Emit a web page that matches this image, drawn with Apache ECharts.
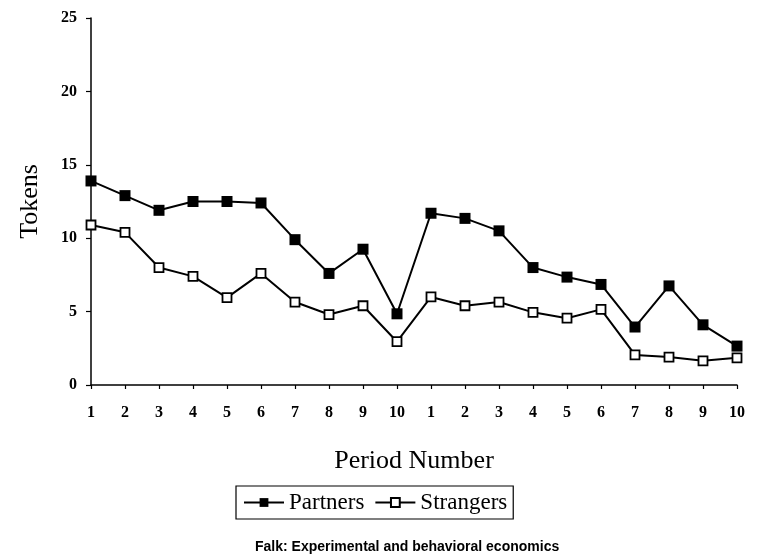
<!DOCTYPE html>
<html>
<head>
<meta charset="utf-8">
<script src="https://cdn.jsdelivr.net/npm/echarts@6/dist/echarts.min.js"></script>
<style>html,body{margin:0;padding:0;background:#fff;}#c{width:759px;height:556px;}</style>
</head>
<body>
<div id="c"></div>
<script>
var periods = ['1','2','3','4','5','6','7','8','9','10','1','2','3','4','5','6','7','8','9','10'];
var partners = [13.9, 12.9, 11.9, 12.5, 12.5, 12.4, 9.9, 7.6, 9.25, 4.85, 11.7, 11.35, 10.5, 8.0, 7.35, 6.85, 3.95, 6.75, 4.1, 2.65];
var strangers = [10.9, 10.4, 8.0, 7.4, 5.95, 7.6, 5.65, 4.8, 5.4, 2.95, 6.0, 5.4, 5.65, 4.95, 4.55, 5.15, 2.05, 1.9, 1.65, 1.85];
var yTicks = [0, 5, 10, 15, 20, 25];

var serif = 'Liberation Serif';
var chart = echarts.init(document.getElementById('c'), null, {renderer: 'canvas'});
chart.setOption({
  animation: false,
  backgroundColor: '#fff',
  grid: {left: 91, right: 22, top: 18, bottom: 171, containLabel: false},
  xAxis: {
    type: 'category',
    data: periods,
    boundaryGap: false,
    name: 'Period Number',
    nameLocation: 'middle',
    nameGap: 63,
    nameTextStyle: {fontFamily: serif, fontSize: 26, color: '#000'},
    axisLine: {lineStyle: {color: '#000', width: 1.5}},
    axisTick: {show: true, length: 4, lineStyle: {color: '#000', width: 1.2}, alignWithLabel: true},
    axisLabel: {fontFamily: serif, fontSize: 16, fontWeight: 'bold', color: '#000', margin: 20, interval: 0},
    splitLine: {show: false}
  },
  yAxis: {
    type: 'value',
    min: yTicks[0],
    max: yTicks[yTicks.length - 1],
    interval: 5,
    name: 'Tokens',
    nameLocation: 'middle',
    nameGap: 48,
    nameRotate: 90,
    nameTextStyle: {fontFamily: serif, fontSize: 26, color: '#000'},
    axisLine: {show: true, lineStyle: {color: '#000', width: 1.5}},
    axisTick: {show: true, length: 5, lineStyle: {color: '#000', width: 1.2}},
    axisLabel: {fontFamily: serif, fontSize: 16, fontWeight: 'bold', color: '#000', margin: 14},
    splitLine: {show: false}
  },
  legend: {
    left: 236,
    top: 486,
    padding: [5, 6, 5, 7],
    itemGap: 10,
    itemWidth: 40,
    itemHeight: 11,
    borderColor: '#000',
    borderWidth: 1.2,
    textStyle: {fontFamily: serif, fontSize: 23, color: '#000'},
    data: ['Partners', 'Strangers']
  },
  graphic: [{
    type: 'text',
    left: 255,
    top: 540,
    style: {text: 'Falk: Experimental and behavioral economics', fontFamily: 'Liberation Sans', fontWeight: 'bold', fontSize: 14, fill: '#000'}
  }],
  series: [{
    name: 'Partners',
    type: 'line',
    data: partners,
    symbol: 'rect',
    symbolSize: 11,
    lineStyle: {color: '#000', width: 2},
    itemStyle: {color: '#000', borderColor: '#000', borderWidth: 0},
    showAllSymbol: true
  }, {
    name: 'Strangers',
    type: 'line',
    data: strangers,
    symbol: 'rect',
    symbolSize: 9,
    lineStyle: {color: '#000', width: 2},
    itemStyle: {color: '#fff', borderColor: '#000', borderWidth: 1.8},
    showAllSymbol: true
  }]
});
</script>
</body>
</html>
